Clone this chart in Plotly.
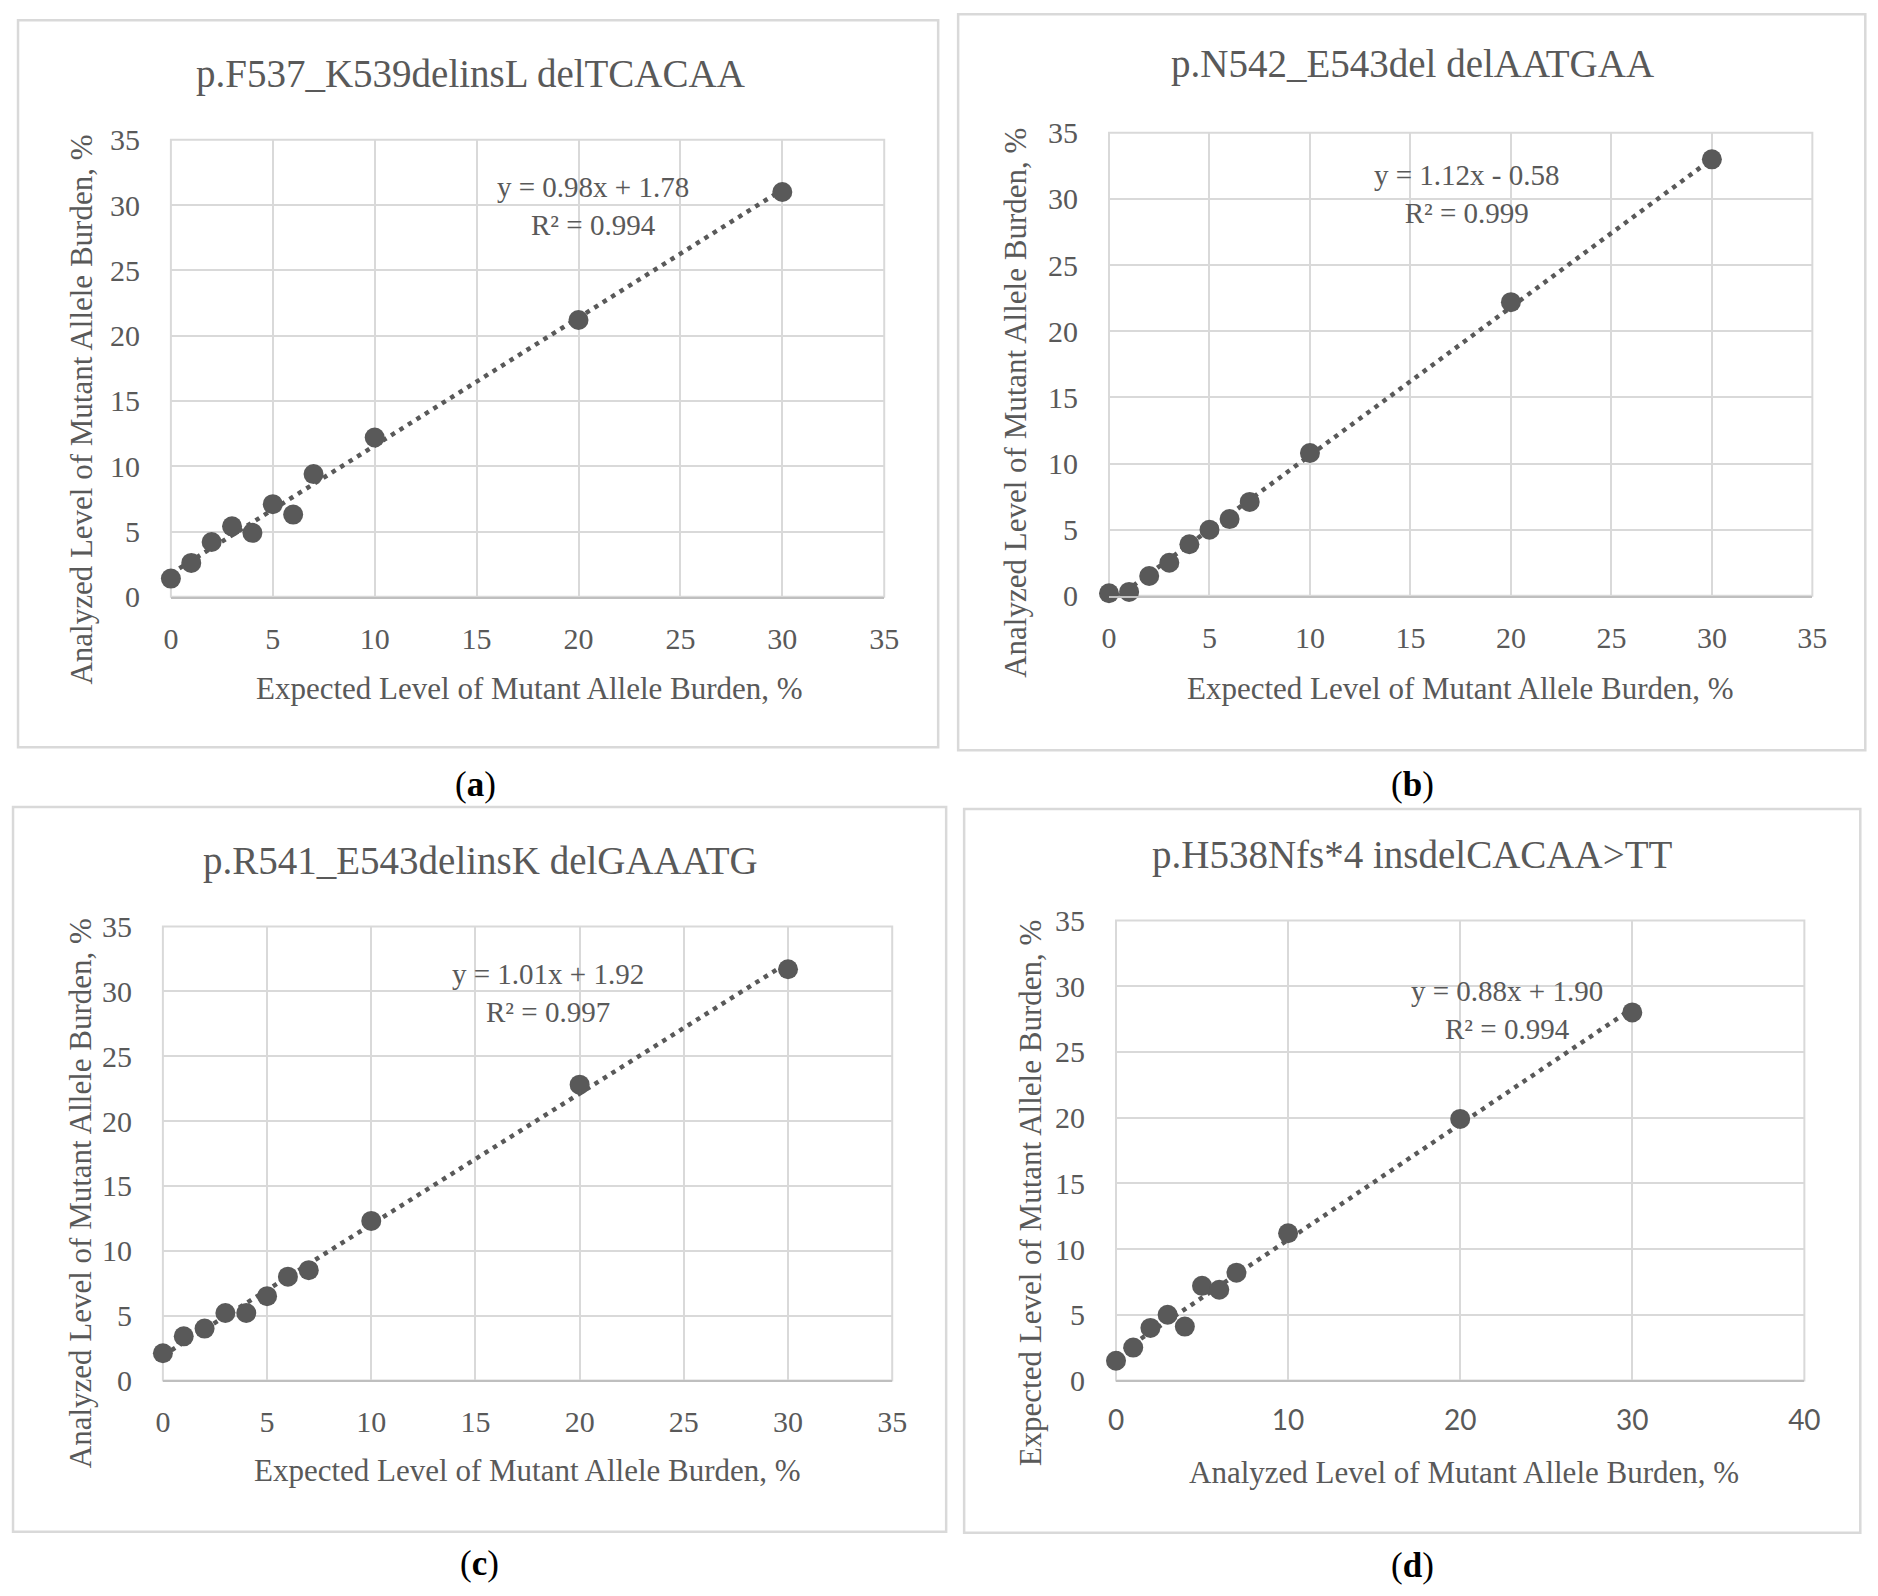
import numpy as np
import plotly.graph_objects as go

W, H = 1878, 1596

expected = [0, 1, 2, 3, 4, 5, 6, 7, 10, 20, 30]
burden_a = [1.4, 2.6, 4.2, 5.4, 4.9, 7.1, 6.3, 9.4, 12.2, 21.2, 31.0]
burden_b = [0.2, 0.3, 1.5, 2.5, 3.9, 5.0, 5.8, 7.1, 10.8, 22.2, 33.0]
burden_c = [2.1, 3.4, 4.0, 5.2, 5.2, 6.5, 8.0, 8.5, 12.3, 22.8, 31.7]
burden_d = [1.5, 2.5, 4.0, 5.0, 4.1, 7.2, 6.9, 8.2, 11.2, 19.9, 28.0]

titles = ["p.F537_K539delinsL delTCACAA", "p.N542_E543del delAATGAA",
          "p.R541_E543delinsK delGAAATG", "p.H538Nfs*4 insdelCACAA>TT"]
slopes = [0.98, 1.12, 1.01, 0.88]
intercepts = [1.78, -0.58, 1.92, 1.90]
r2 = [0.994, 0.999, 0.997, 0.994]
letters = ["a", "b", "c", "d"]
xlabels = ["Expected Level of Mutant Allele Burden, %"] * 3 + ["Analyzed Level of Mutant Allele Burden, %"]
ylabels = ["Analyzed Level of Mutant Allele Burden, %"] * 3 + ["Expected Level of Mutant Allele Burden, %"]
xmax = [35, 35, 35, 40]
xstep = [5, 5, 5, 10]

series = [burden_a, burden_b, burden_c, burden_d]

# page positions are given in target pixels; the page is drawn with an offset,
# so map them back onto the figure
def px(x):
    return ((x * 0.8349 - 12.5) / 0.825) / W

def py(y):
    return 1 - ((y * 0.8333 - 18.9) / 0.8196) / H

panels = [
    dict(plot=(170, 884, 138, 597), box=(17, 938, 18, 748), title=(470, 72),
         eq=(593, 204), xt=(529, 689), yt=(81, 409), lab=(475, 785)),
    dict(plot=(1109, 1813, 131, 596), box=(958, 1866, 12, 751), title=(1413, 62),
         eq=(1467, 192), xt=(1461, 689), yt=(1016, 402), lab=(1413, 785)),
    dict(plot=(162, 892, 928, 1384), box=(12, 946, 808, 1536), title=(480, 862),
         eq=(547, 995), xt=(527, 1474), yt=(79, 1196), lab=(479, 1568)),
    dict(plot=(1116, 1805, 922, 1384), box=(964, 1861, 810, 1537), title=(1412, 856),
         eq=(1507, 1012), xt=(1464, 1476), yt=(1030, 1196), lab=(1413, 1570)),
]

SERIF = "Liberation Serif"
GREY = "#595959"
fig = go.Figure()
shapes = []
annotations = []


def note(text, x, y, size, color=GREY, angle=0):
    annotations.append(dict(text=text, x=px(x), y=py(y), xref="paper", yref="paper",
                            xanchor="center", yanchor="middle", showarrow=False,
                            textangle=angle, font=dict(family=SERIF, size=size, color=color)))


for i, p in enumerate(panels):
    n = i + 1
    xa = "x" if n == 1 else "x%d" % n
    ya = "y" if n == 1 else "y%d" % n

    # linear trendline from the fitted equation
    xs = np.array([0, max(expected)])
    fig.add_trace(go.Scatter(
        x=xs, y=slopes[i] * xs + intercepts[i], xaxis=xa, yaxis=ya,
        mode="lines", line=dict(color=GREY, width=4.5, dash="4.5px,5.5px"),
        showlegend=False, hoverinfo="skip"))
    fig.add_trace(go.Scatter(
        x=expected, y=series[i], xaxis=xa, yaxis=ya, mode="markers",
        marker=dict(color=GREY, size=20), cliponaxis=False, showlegend=False))

    x0, x1, yt_, yb = p["plot"]
    xfont = dict(family="Lato", size=28, color=GREY) if i == 3 else dict(family=SERIF, size=30, color=GREY)
    fig.update_layout({
        ("xaxis" if n == 1 else "xaxis%d" % n): dict(
            domain=[px(x0), px(x1)], anchor=ya, range=[0, xmax[i]], dtick=xstep[i],
            showgrid=True, gridcolor="#d9d9d9", gridwidth=2, zeroline=False,
            showline=True, linecolor="#bfbfbf", linewidth=2,
            ticks="", tickfont=xfont, ticklabelstandoff=14),
        ("yaxis" if n == 1 else "yaxis%d" % n): dict(
            domain=[py(yb), py(yt_)], anchor=xa, range=[0, 35], dtick=5,
            showgrid=True, gridcolor="#d9d9d9", gridwidth=2, zeroline=False,
            showline=False, ticks="", tickfont=dict(family=SERIF, size=30, color=GREY),
            ticklabelstandoff=30),
    })
    shapes.append(dict(type="rect", xref="paper", yref="paper",
                       x0=px(x0), x1=px(x1), y0=py(yb), y1=py(yt_),
                       line=dict(color="#d9d9d9", width=2), layer="below"))
    bx0, bx1, by0, by1 = p["box"]
    shapes.append(dict(type="rect", xref="paper", yref="paper",
                       x0=px(bx0), x1=px(bx1), y0=py(by1), y1=py(by0),
                       line=dict(color="#d9d9d9", width=2.5)))

    sign = "+" if intercepts[i] >= 0 else "-"
    eq = "y = %.2fx %s %.2f<br>R² = %.3f" % (slopes[i], sign, abs(intercepts[i]), r2[i])
    note(titles[i], *p["title"], size=39)
    note(eq, *p["eq"], size=29)
    note(xlabels[i], *p["xt"], size=31)
    note(ylabels[i], *p["yt"], size=31, angle=-90)
    note("(<b>%s</b>)" % letters[i], *p["lab"], size=35, color="black")

fig.update_layout(
    width=W, height=H,
    margin=dict(l=0, r=0, t=0, b=0),
    paper_bgcolor="white", plot_bgcolor="white",
    shapes=shapes, annotations=annotations,
)

fig.write_html("out.html")
